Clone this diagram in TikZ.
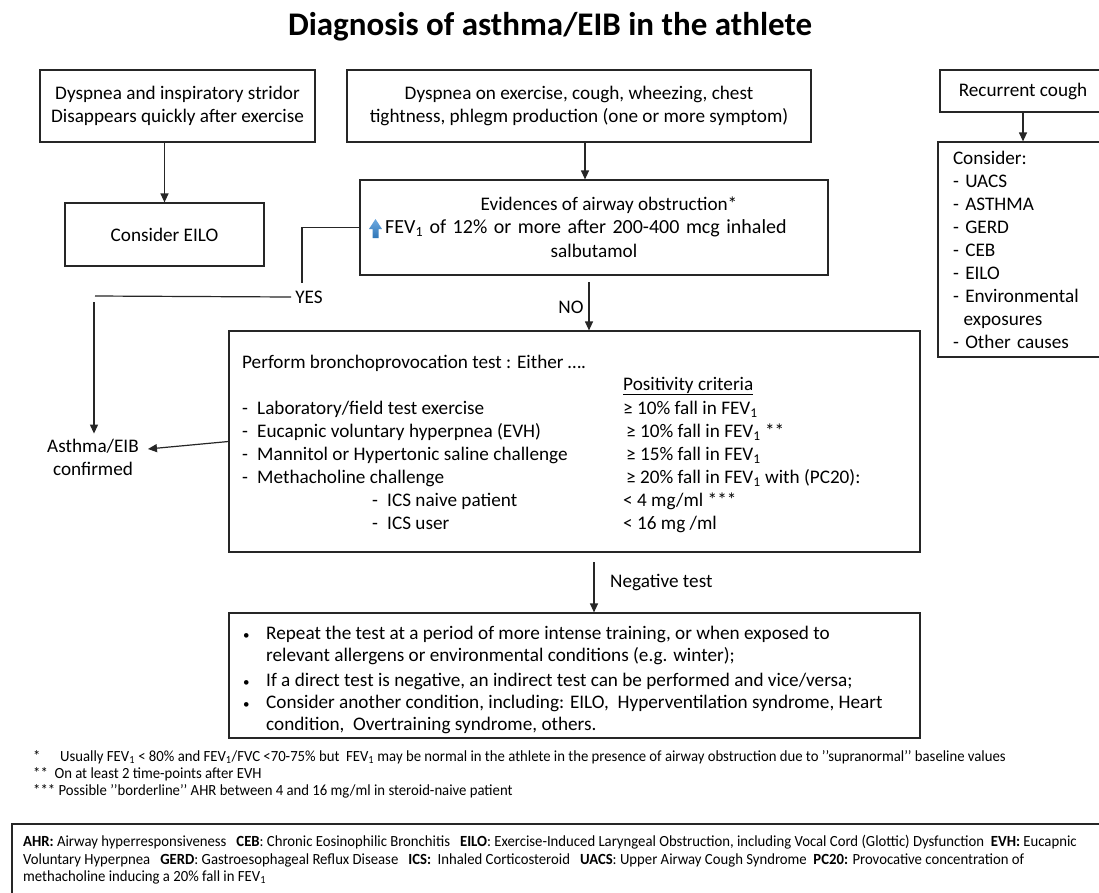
\documentclass[tikz,border=0pt]{standalone}
\usepackage{fontspec}
\setmainfont{Carlito}
\newfontfamily\narrowfont[FakeStretch=0.95]{Carlito}
\usepackage{xcolor}
\usetikzlibrary{arrows, arrows.meta, positioning, calc}
\definecolor{upblue}{RGB}{46,117,182}
\definecolor{upblue light}{RGB}{110,170,225}
\newcommand{\mainsize}{\fontsize{19.2}{23}\selectfont}
\newcommand{\notesize}{\narrowfont\fontsize{15.5}{17.5}\selectfont}
\newcommand{\smallbullet}{{\fontsize{13}{13}\selectfont•}}
\tikzset{
	box/.style={rectangle, draw=black!85, line width=1.2pt, inner sep=0pt, font=\mainsize},
	txt/.style={inner sep=0pt, font=\mainsize},
	note/.style={inner sep=0pt, font=\notesize},
	line/.style={draw=black!85, line width=1.2pt, -{Triangle[length=9pt,width=8pt]}},
	plain/.style={draw=black!85, line width=1.2pt}
}

\begin{document}
\begin{tikzpicture}[x=1pt, y=-1pt]
	\useasboundingbox (0,0) rectangle (1099,892);
	\fill[white] (0,0) rectangle (1099,892);
	
	% Title
	\node[font=\fontsize{33}{38}\selectfont\bfseries] (title) at (550,27) {Diagnosis of asthma/EIB in the athlete};
	
	% Symptoms
	\node[box, minimum width=275pt, minimum height=72pt, align=center] (dysA) at (177.5,106) {Dyspnea and inspiratory stridor\\Disappears quickly after exercise};
	\node[box, minimum width=464pt, minimum height=72pt, align=center] (dysB) at (579,106) {Dyspnea on exercise, cough, wheezing, chest\\tightness, phlegm production (one or more symptom)};
	\node[box, minimum width=166pt, minimum height=42pt] (cough) at (1023,91) {Recurrent cough};
	
	% Cough causes
	\node[box, minimum width=168pt, minimum height=215pt, text width=138pt, align=left] (consid) at (1022,249.5) {Consider:\\- UACS\\- ASTHMA\\- GERD\\- CEB\\- EILO\\- Environmental\\\hspace*{0.55em}exposures\\- Other causes};
	
	\node[box, minimum width=199pt, minimum height=63pt] (eilo) at (164.5,234.5) {Consider EILO};
	
	% Reversibility
	\node[box, minimum width=468pt, minimum height=95pt] (evid) at (594,227.5) {};
	\node[txt] (ev-1) at (609,205) {Evidences of airway obstruction*};
	\node[txt, anchor=west, font=\fontsize{20}{23}\selectfont] (ev-2) at (385,228) {\spaceskip=6.5pt\relax FEV\textsubscript{1} of 12\% or more after 200-400 mcg inhaled};
	\node[txt] (ev-3) at (594,251) {salbutamol};
	\shade[top color=upblue light, bottom color=upblue] ($(ev-2.west)+(-16,1)$) -- ++(6.5,-10) -- ++(6.5,10) -- ++(-3.5,0) -- ++(0,9) -- ++(-6,0) -- ++(0,-9) -- cycle;
	
	% Bronchoprovocation
	\node[box, minimum width=691pt, minimum height=221pt] (perf) at (574.5,441.5) {};
	\node[txt, anchor=base west] (perf-t) at (242,368) {Perform bronchoprovocation test : Either ….};
	\node[txt, anchor=base west] (crit) at (623,390) {\underline{Positivity criteria}};
	\foreach \t [count=\i] in {Laboratory/field test exercise, Eucapnic voluntary hyperpnea (EVH),
		Mannitol or Hypertonic saline challenge, Methacholine challenge}
	\node[txt, anchor=base west] (test-\i) at (242,391+23*\i) {\makebox[15pt][l]{-}\t};
	\node[txt, anchor=base west] (ics-1) at (372,506) {\makebox[15pt][l]{-}ICS naive patient};
	\node[txt, anchor=base west] (ics-2) at (372,529) {\makebox[15pt][l]{-}ICS user};
	\node[txt, anchor=base west] (pos-1) at (623,414) {≥ 10\% fall in FEV\textsubscript{1}};
	\node[txt, anchor=base west] (pos-2) at (626,437) {≥ 10\% fall in FEV\textsubscript{1} **};
	\node[txt, anchor=base west] (pos-3) at (626,460) {≥ 15\% fall in FEV\textsubscript{1}};
	\node[txt, anchor=base west] (pos-4) at (626,483) {≥ 20\% fall in FEV\textsubscript{1} with (PC20):};
	\node[txt, anchor=base west] (pos-5) at (623,506) {< 4 mg/ml ***};
	\node[txt, anchor=base west] (pos-6) at (623,529) {< 16 mg /ml};
	
	\node[txt, align=center, inner xsep=9pt, inner ysep=5pt] (asthma) at (93,457) {Asthma/EIB\\confirmed};
	
	% Negative test
	\node[box, minimum width=691pt, minimum height=125pt] (rep) at (574.5,675.5) {};
	\foreach \y in {639,686,708}
	\node[txt, anchor=base west] at (243,\y) {\smallbullet};
	\node[txt, anchor=base west] (rep-1) at (266,639) {Repeat the test at a period of more intense training, or when exposed to};
	\node[txt, anchor=base west] (rep-2) at (266,661) {relevant allergens or environmental conditions (e.g. winter);};
	\node[txt, anchor=base west] (rep-3) at (266,686) {If a direct test is negative, an indirect test can be performed and vice/versa;};
	\node[txt, anchor=base west] (rep-4) at (266,708) {Consider another condition, including: EILO,\ \ Hyperventilation syndrome, Heart};
	\node[txt, anchor=base west] (rep-5) at (266,730) {condition,\ \ Overtraining syndrome, others.};
	
	% Labels
	\node[txt, inner xsep=4pt] (yes) at (309,297) {YES};
	\node[txt] (no) at (571,307) {NO};
	\node[txt, anchor=west] (neg) at (610,583) {Negative test};
	\coordinate (yes-top) at (302,283);
	\coordinate (yes-left) at (95,296);
	\coordinate (yes-drop) at (94,302);
	\coordinate (no-top) at (589,282);
	\coordinate (neg-top) at (594,562);
	
	% Connections
	\draw[line] (eilo.north |- dysA.south) -- (eilo.north);
	\draw[line] ([xshift=6pt]dysB.south) -- ([xshift=6pt]dysB.south |- evid.north);
	\draw[line] (cough.south) -- (cough.south |- consid.north);
	\draw[plain] (evid.west) -| (yes-top);
	\draw[plain] (yes.west) -- (yes-left);
	\draw[line] (yes-drop) -- (yes-drop |- asthma.north);
	\draw[line] (no-top) -- (no-top |- perf.north);
	\draw[line] (perf.west) -- ([yshift=8pt]asthma.east);
	\draw[line] (neg-top) -- (neg-top |- rep.north);
	
	% Footnotes
	\node[note, anchor=base west] (fn-1) at (33,761) {*};
	\node[note, anchor=base west] (fn-1t) at (60,761) {Usually FEV\textsubscript{1} < 80\% and FEV\textsubscript{1}/FVC <70-75\% but\ \ FEV\textsubscript{1} may be normal in the athlete in the presence of airway obstruction due to ’’supranormal’’ baseline values};
	\node[note, anchor=base west] (fn-2) at (33,778) {**\ \ On at least 2 time-points after EVH};
	\node[note, anchor=base west] (fn-3) at (33,795) {*** Possible ’’borderline’’ AHR between 4 and 16 mg/ml in steroid-naive patient};
	
	% Abbreviations
	\node[box, minimum width=1098pt, minimum height=76pt] (abbr) at (561,862) {};
	\node[note, anchor=base west] (ab-1) at (23,846) {\textbf{AHR:} Airway hyperresponsiveness\ \ \ \textbf{CEB}: Chronic Eosinophilic Bronchitis\ \ \ \textbf{EILO}: Exercise-Induced Laryngeal Obstruction, including Vocal Cord (Glottic) Dysfunction\ \ \textbf{EVH:} Eucapnic};
	\node[note, anchor=base west] (ab-2) at (23,864) {Voluntary Hyperpnea\ \ \ \textbf{GERD}: Gastroesophageal Reflux Disease\ \ \ \textbf{ICS:}\ \ Inhaled Corticosteroid\ \ \ \textbf{UACS}: Upper Airway Cough Syndrome\ \ \textbf{PC20:} Provocative concentration of};
	\node[note, anchor=base west] (ab-3) at (23,881) {methacholine inducing a 20\% fall in FEV\textsubscript{1}};
\end{tikzpicture}
\end{document}
